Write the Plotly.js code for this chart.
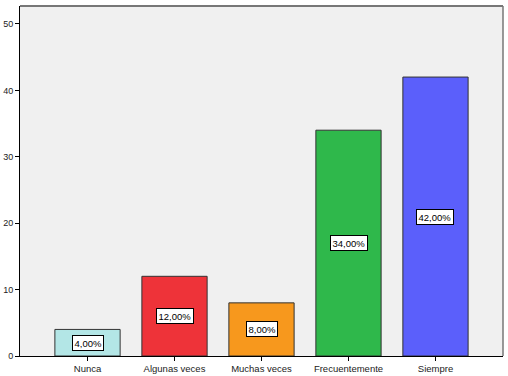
<!DOCTYPE html>
<html><head><meta charset="utf-8">
<script src="https://cdn.plot.ly/plotly-3.0.1.min.js"></script>
<style>html,body{margin:0;padding:0;background:#fff;}</style>
</head><body>
<div id="chart" style="width:508px;height:376px;"></div>
<script>
const categories = ["Nunca", "Algunas veces", "Muchas veces", "Frecuentemente", "Siempre"];
const values = [4, 12, 8, 34, 42];
const labels = ["4,00%", "12,00%", "8,00%", "34,00%", "42,00%"];
const colors = ["#b3e6e6", "#ee3339", "#f7981d", "#2fb84b", "#5b5ffb"];

const trace = {
  type: "bar",
  x: categories,
  y: values,
  width: 0.75,
  marker: {color: colors, line: {color: "#333333", width: 1}},
  hoverinfo: "none"
};

const annotations = categories.map((c, i) => ({
  x: c, y: values[i] / 2, xref: "x", yref: "y",
  text: labels[i], showarrow: false,
  font: {family: "Liberation Sans, Arial", size: 9.5, color: "#000"},
  bgcolor: "#ffffff", bordercolor: "#000000", borderwidth: 1, borderpad: 1.5
}));

const layout = {
  width: 508, height: 376,
  margin: {l: 20, r: 5, t: 6, b: 20},
  paper_bgcolor: "#ffffff",
  plot_bgcolor: "#f0f0f0",
  showlegend: false,
  font: {family: "Liberation Sans, Arial", size: 9, color: "#222"},
  xaxis: {
    range: [-0.776, 4.776],
    showgrid: false, zeroline: false,
    showline: true, linecolor: "#000", linewidth: 1,
    ticks: "outside", ticklen: 4, tickcolor: "#000",
    tickfont: {size: 9.5, color: "#222"}
  },
  yaxis: {
    range: [0, 52.7],
    dtick: 10,
    showgrid: false, zeroline: false,
    showline: true, linecolor: "#000", linewidth: 1,
    ticks: "outside", ticklen: 4, tickcolor: "#000",
    tickfont: {size: 9, color: "#222"}
  },
  shapes: [
    {type: "line", xref: "paper", yref: "paper", x0: 0, x1: 1, y0: 1, y1: 1, line: {color: "#777", width: 2}},
    {type: "line", xref: "paper", yref: "paper", x0: 1, x1: 1, y0: 0, y1: 1, line: {color: "#777", width: 1.5}}
  ],
  annotations: annotations
};

Plotly.newPlot("chart", [trace], layout, {displayModeBar: false, staticPlot: true});
</script>
</body></html>
